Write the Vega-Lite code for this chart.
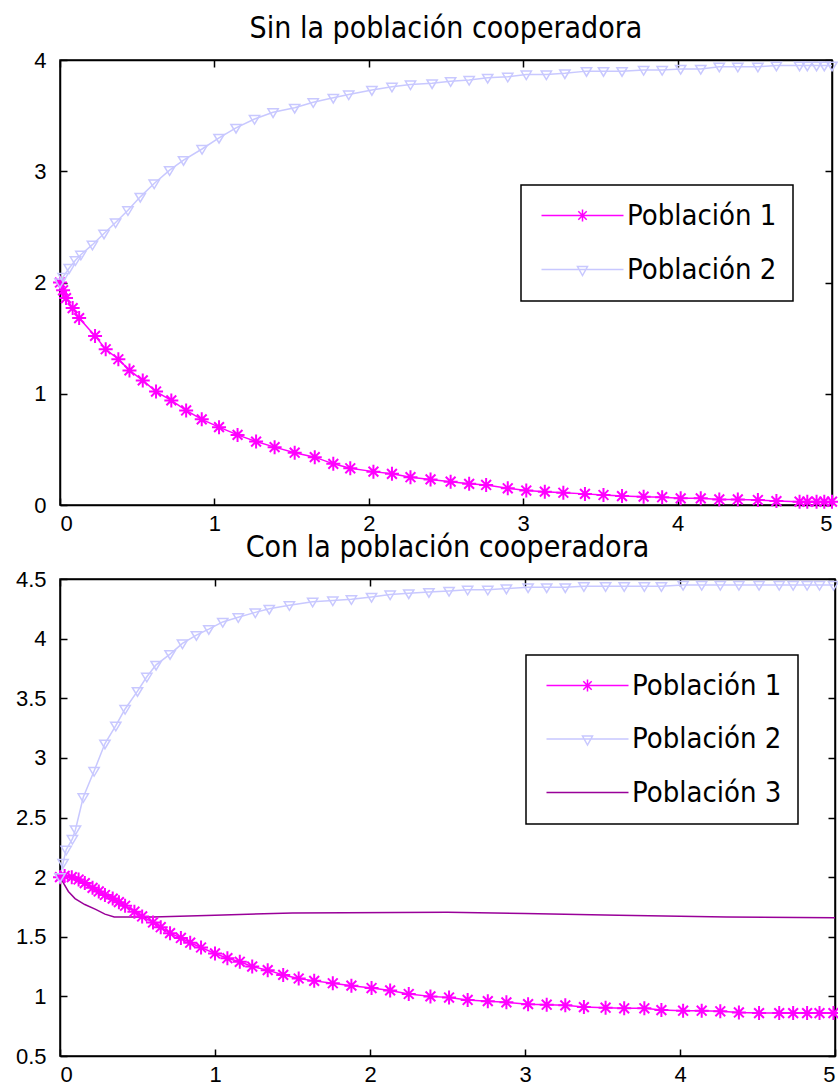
{
  "$schema": "https://vega.github.io/schema/vega-lite/v6.json",
  "background": "white",
  "padding": {"left": 14, "top": 13, "right": 5, "bottom": 5},
  "bounds": "flush",
  "spacing": 74,
  "config": {
    "view": {"stroke": "black", "strokeWidth": 1.5},
    "axis": {
      "domainColor": "black", "domainWidth": 1.5, "tickColor": "black", "tickWidth": 1.5,
      "tickSize": -7, "labelColor": "black", "labelFont": "Liberation Sans", "labelFontSize": 22,
      "grid": false, "title": null
    },
    "axisX": {"labelPadding": 15},
    "axisY": {"labelPadding": 21},
    "title": {"font": "Liberation Sans Narrow, DejaVu Sans Condensed, Liberation Sans", "fontSize": 30, "fontWeight": "normal", "color": "black", "offset": 5, "baseline": "alphabetic", "anchor": "middle"},
    "legend": {
      "title": null, "orient": "none", "direction": "vertical",
      "labelFont": "Liberation Sans Narrow, DejaVu Sans Condensed, Liberation Sans", "labelFontSize": 29, "labelColor": "black",
      "labelOffset": 61, "symbolSize": 400, "symbolStrokeWidth": 1.5, "symbolOpacity": 1,
      "strokeColor": "black", "fillColor": "white", "padding": 16, "labelLimit": 0
    }
  },
  "datasets": {
    "top": [
      {"s": "Población 1", "t": 0, "v": 2.0},
      {"s": "Población 1", "t": 0.02, "v": 1.93},
      {"s": "Población 1", "t": 0.039, "v": 1.86},
      {"s": "Población 1", "t": 0.082, "v": 1.77},
      {"s": "Población 1", "t": 0.124, "v": 1.68},
      {"s": "Población 1", "t": 0.227, "v": 1.52},
      {"s": "Población 1", "t": 0.296, "v": 1.40},
      {"s": "Población 1", "t": 0.378, "v": 1.31},
      {"s": "Población 1", "t": 0.45, "v": 1.21},
      {"s": "Población 1", "t": 0.536, "v": 1.12},
      {"s": "Población 1", "t": 0.622, "v": 1.02},
      {"s": "Población 1", "t": 0.721, "v": 0.94},
      {"s": "Población 1", "t": 0.817, "v": 0.85},
      {"s": "Población 1", "t": 0.918, "v": 0.77},
      {"s": "Población 1", "t": 1.03, "v": 0.70},
      {"s": "Población 1", "t": 1.15, "v": 0.63},
      {"s": "Población 1", "t": 1.27, "v": 0.57},
      {"s": "Población 1", "t": 1.39, "v": 0.52},
      {"s": "Población 1", "t": 1.52, "v": 0.47},
      {"s": "Población 1", "t": 1.65, "v": 0.43},
      {"s": "Población 1", "t": 1.77, "v": 0.37},
      {"s": "Población 1", "t": 1.88, "v": 0.33},
      {"s": "Población 1", "t": 2.03, "v": 0.30},
      {"s": "Población 1", "t": 2.15, "v": 0.28},
      {"s": "Población 1", "t": 2.27, "v": 0.25},
      {"s": "Población 1", "t": 2.40, "v": 0.23},
      {"s": "Población 1", "t": 2.53, "v": 0.21},
      {"s": "Población 1", "t": 2.65, "v": 0.19},
      {"s": "Población 1", "t": 2.76, "v": 0.18},
      {"s": "Población 1", "t": 2.90, "v": 0.15},
      {"s": "Población 1", "t": 3.02, "v": 0.13},
      {"s": "Población 1", "t": 3.14, "v": 0.12},
      {"s": "Población 1", "t": 3.26, "v": 0.11},
      {"s": "Población 1", "t": 3.40, "v": 0.10},
      {"s": "Población 1", "t": 3.52, "v": 0.09},
      {"s": "Población 1", "t": 3.64, "v": 0.08},
      {"s": "Población 1", "t": 3.78, "v": 0.075},
      {"s": "Población 1", "t": 3.90, "v": 0.07},
      {"s": "Población 1", "t": 4.02, "v": 0.06},
      {"s": "Población 1", "t": 4.15, "v": 0.06},
      {"s": "Población 1", "t": 4.27, "v": 0.05},
      {"s": "Población 1", "t": 4.39, "v": 0.05},
      {"s": "Población 1", "t": 4.52, "v": 0.045},
      {"s": "Población 1", "t": 4.64, "v": 0.035},
      {"s": "Población 1", "t": 4.79, "v": 0.03},
      {"s": "Población 1", "t": 4.84, "v": 0.03},
      {"s": "Población 1", "t": 4.90, "v": 0.03},
      {"s": "Población 1", "t": 4.95, "v": 0.03},
      {"s": "Población 1", "t": 5.0, "v": 0.03},
      {"s": "Población 2", "t": 0, "v": 2.0},
      {"s": "Población 2", "t": 0.02, "v": 2.05},
      {"s": "Población 2", "t": 0.06, "v": 2.13},
      {"s": "Población 2", "t": 0.10, "v": 2.20},
      {"s": "Población 2", "t": 0.135, "v": 2.25},
      {"s": "Población 2", "t": 0.21, "v": 2.34},
      {"s": "Población 2", "t": 0.285, "v": 2.44},
      {"s": "Población 2", "t": 0.36, "v": 2.54},
      {"s": "Población 2", "t": 0.44, "v": 2.65},
      {"s": "Población 2", "t": 0.52, "v": 2.77},
      {"s": "Población 2", "t": 0.61, "v": 2.89},
      {"s": "Población 2", "t": 0.71, "v": 3.01},
      {"s": "Población 2", "t": 0.80, "v": 3.10},
      {"s": "Población 2", "t": 0.92, "v": 3.20},
      {"s": "Población 2", "t": 1.03, "v": 3.30},
      {"s": "Población 2", "t": 1.14, "v": 3.39},
      {"s": "Población 2", "t": 1.26, "v": 3.47},
      {"s": "Población 2", "t": 1.38, "v": 3.53},
      {"s": "Población 2", "t": 1.52, "v": 3.57},
      {"s": "Población 2", "t": 1.64, "v": 3.62},
      {"s": "Población 2", "t": 1.77, "v": 3.66},
      {"s": "Población 2", "t": 1.87, "v": 3.69},
      {"s": "Población 2", "t": 2.02, "v": 3.73},
      {"s": "Población 2", "t": 2.15, "v": 3.76},
      {"s": "Población 2", "t": 2.27, "v": 3.78},
      {"s": "Población 2", "t": 2.41, "v": 3.79},
      {"s": "Población 2", "t": 2.53, "v": 3.81},
      {"s": "Población 2", "t": 2.65, "v": 3.82},
      {"s": "Población 2", "t": 2.77, "v": 3.84},
      {"s": "Población 2", "t": 2.90, "v": 3.85},
      {"s": "Población 2", "t": 3.02, "v": 3.87},
      {"s": "Población 2", "t": 3.15, "v": 3.87},
      {"s": "Población 2", "t": 3.27, "v": 3.88},
      {"s": "Población 2", "t": 3.41, "v": 3.90},
      {"s": "Población 2", "t": 3.52, "v": 3.90},
      {"s": "Población 2", "t": 3.64, "v": 3.90},
      {"s": "Población 2", "t": 3.78, "v": 3.91},
      {"s": "Población 2", "t": 3.90, "v": 3.91},
      {"s": "Población 2", "t": 4.02, "v": 3.92},
      {"s": "Población 2", "t": 4.15, "v": 3.92},
      {"s": "Población 2", "t": 4.27, "v": 3.94},
      {"s": "Población 2", "t": 4.39, "v": 3.94},
      {"s": "Población 2", "t": 4.52, "v": 3.94},
      {"s": "Población 2", "t": 4.64, "v": 3.95},
      {"s": "Población 2", "t": 4.79, "v": 3.95},
      {"s": "Población 2", "t": 4.84, "v": 3.95},
      {"s": "Población 2", "t": 4.90, "v": 3.95},
      {"s": "Población 2", "t": 4.95, "v": 3.95},
      {"s": "Población 2", "t": 5.0, "v": 3.95}
    ],
    "bottom": [
      {"s": "Población 1", "t": 0, "v": 2.0},
      {"s": "Población 1", "t": 0.03, "v": 2.01},
      {"s": "Población 1", "t": 0.076, "v": 2.0},
      {"s": "Población 1", "t": 0.12, "v": 1.98},
      {"s": "Población 1", "t": 0.16, "v": 1.95},
      {"s": "Población 1", "t": 0.21, "v": 1.91},
      {"s": "Población 1", "t": 0.25, "v": 1.88},
      {"s": "Población 1", "t": 0.29, "v": 1.85},
      {"s": "Población 1", "t": 0.34, "v": 1.82},
      {"s": "Población 1", "t": 0.38, "v": 1.79},
      {"s": "Población 1", "t": 0.42, "v": 1.76},
      {"s": "Población 1", "t": 0.48, "v": 1.71},
      {"s": "Población 1", "t": 0.53, "v": 1.67},
      {"s": "Población 1", "t": 0.60, "v": 1.62},
      {"s": "Población 1", "t": 0.65, "v": 1.58},
      {"s": "Población 1", "t": 0.71, "v": 1.53},
      {"s": "Población 1", "t": 0.78, "v": 1.49},
      {"s": "Población 1", "t": 0.84, "v": 1.45},
      {"s": "Población 1", "t": 0.91, "v": 1.41},
      {"s": "Población 1", "t": 1.0, "v": 1.36},
      {"s": "Población 1", "t": 1.08, "v": 1.32},
      {"s": "Población 1", "t": 1.16, "v": 1.29},
      {"s": "Población 1", "t": 1.24, "v": 1.25},
      {"s": "Población 1", "t": 1.34, "v": 1.22},
      {"s": "Población 1", "t": 1.44, "v": 1.18},
      {"s": "Población 1", "t": 1.54, "v": 1.15},
      {"s": "Población 1", "t": 1.64, "v": 1.13},
      {"s": "Población 1", "t": 1.76, "v": 1.11},
      {"s": "Población 1", "t": 1.88, "v": 1.09},
      {"s": "Población 1", "t": 2.01, "v": 1.07},
      {"s": "Población 1", "t": 2.13, "v": 1.05},
      {"s": "Población 1", "t": 2.25, "v": 1.02},
      {"s": "Población 1", "t": 2.39, "v": 1.00},
      {"s": "Población 1", "t": 2.51, "v": 0.99},
      {"s": "Población 1", "t": 2.63, "v": 0.97},
      {"s": "Población 1", "t": 2.76, "v": 0.96},
      {"s": "Población 1", "t": 2.88, "v": 0.95},
      {"s": "Población 1", "t": 3.02, "v": 0.935},
      {"s": "Población 1", "t": 3.14, "v": 0.93},
      {"s": "Población 1", "t": 3.26, "v": 0.925},
      {"s": "Población 1", "t": 3.38, "v": 0.91},
      {"s": "Población 1", "t": 3.52, "v": 0.905},
      {"s": "Población 1", "t": 3.64, "v": 0.90},
      {"s": "Población 1", "t": 3.77, "v": 0.90},
      {"s": "Población 1", "t": 3.88, "v": 0.885},
      {"s": "Población 1", "t": 4.02, "v": 0.88},
      {"s": "Población 1", "t": 4.14, "v": 0.88},
      {"s": "Población 1", "t": 4.26, "v": 0.875},
      {"s": "Población 1", "t": 4.38, "v": 0.865},
      {"s": "Población 1", "t": 4.51, "v": 0.86},
      {"s": "Población 1", "t": 4.64, "v": 0.86},
      {"s": "Población 1", "t": 4.73, "v": 0.86},
      {"s": "Población 1", "t": 4.82, "v": 0.86},
      {"s": "Población 1", "t": 4.90, "v": 0.86},
      {"s": "Población 1", "t": 4.99, "v": 0.86},
      {"s": "Población 2", "t": 0, "v": 2.0},
      {"s": "Población 2", "t": 0.02, "v": 2.12},
      {"s": "Población 2", "t": 0.04, "v": 2.23},
      {"s": "Población 2", "t": 0.08, "v": 2.32},
      {"s": "Población 2", "t": 0.10, "v": 2.40},
      {"s": "Población 2", "t": 0.15, "v": 2.67},
      {"s": "Población 2", "t": 0.22, "v": 2.89},
      {"s": "Población 2", "t": 0.29, "v": 3.12},
      {"s": "Población 2", "t": 0.36, "v": 3.27},
      {"s": "Población 2", "t": 0.42, "v": 3.41},
      {"s": "Población 2", "t": 0.50, "v": 3.56},
      {"s": "Población 2", "t": 0.56, "v": 3.68},
      {"s": "Población 2", "t": 0.62, "v": 3.78},
      {"s": "Población 2", "t": 0.71, "v": 3.87},
      {"s": "Población 2", "t": 0.79, "v": 3.96},
      {"s": "Población 2", "t": 0.88, "v": 4.03},
      {"s": "Población 2", "t": 0.96, "v": 4.08},
      {"s": "Población 2", "t": 1.05, "v": 4.14},
      {"s": "Población 2", "t": 1.15, "v": 4.18},
      {"s": "Población 2", "t": 1.26, "v": 4.22},
      {"s": "Población 2", "t": 1.35, "v": 4.25},
      {"s": "Población 2", "t": 1.48, "v": 4.28},
      {"s": "Población 2", "t": 1.63, "v": 4.31},
      {"s": "Población 2", "t": 1.76, "v": 4.32},
      {"s": "Población 2", "t": 1.88, "v": 4.33},
      {"s": "Población 2", "t": 2.01, "v": 4.35},
      {"s": "Población 2", "t": 2.13, "v": 4.37},
      {"s": "Población 2", "t": 2.25, "v": 4.38},
      {"s": "Población 2", "t": 2.38, "v": 4.39},
      {"s": "Población 2", "t": 2.51, "v": 4.40},
      {"s": "Población 2", "t": 2.63, "v": 4.41},
      {"s": "Población 2", "t": 2.76, "v": 4.41},
      {"s": "Población 2", "t": 2.88, "v": 4.42},
      {"s": "Población 2", "t": 3.02, "v": 4.43},
      {"s": "Población 2", "t": 3.14, "v": 4.43},
      {"s": "Población 2", "t": 3.26, "v": 4.43},
      {"s": "Población 2", "t": 3.38, "v": 4.44},
      {"s": "Población 2", "t": 3.52, "v": 4.44},
      {"s": "Población 2", "t": 3.64, "v": 4.44},
      {"s": "Población 2", "t": 3.77, "v": 4.44},
      {"s": "Población 2", "t": 3.88, "v": 4.44},
      {"s": "Población 2", "t": 4.02, "v": 4.45},
      {"s": "Población 2", "t": 4.14, "v": 4.45},
      {"s": "Población 2", "t": 4.26, "v": 4.45},
      {"s": "Población 2", "t": 4.38, "v": 4.45},
      {"s": "Población 2", "t": 4.51, "v": 4.45},
      {"s": "Población 2", "t": 4.64, "v": 4.45},
      {"s": "Población 2", "t": 4.73, "v": 4.45},
      {"s": "Población 2", "t": 4.82, "v": 4.45},
      {"s": "Población 2", "t": 4.90, "v": 4.45},
      {"s": "Población 2", "t": 4.99, "v": 4.45},
      {"s": "Población 3", "t": 0, "v": 2.0},
      {"s": "Población 3", "t": 0.054, "v": 1.88},
      {"s": "Población 3", "t": 0.097, "v": 1.82},
      {"s": "Población 3", "t": 0.16, "v": 1.77},
      {"s": "Población 3", "t": 0.23, "v": 1.73},
      {"s": "Población 3", "t": 0.29, "v": 1.69},
      {"s": "Población 3", "t": 0.35, "v": 1.665},
      {"s": "Población 3", "t": 0.6, "v": 1.665},
      {"s": "Población 3", "t": 1.0, "v": 1.68},
      {"s": "Población 3", "t": 1.5, "v": 1.70},
      {"s": "Población 3", "t": 2.5, "v": 1.705},
      {"s": "Población 3", "t": 3.0, "v": 1.695},
      {"s": "Población 3", "t": 3.6, "v": 1.68},
      {"s": "Población 3", "t": 4.3, "v": 1.665},
      {"s": "Población 3", "t": 5.0, "v": 1.66}
    ]
  },
  "resolve": {"scale": {"color": "independent"}, "legend": {"color": "independent"}},
  "vconcat": [
    {
      "title": "Sin la población cooperadora",
      "width": 772,
      "height": 445,
      "data": {"name": "top"},
      "resolve": {"axis": {"x": "independent", "y": "independent"}},
      "layer": [
        {
          "mark": {"type": "line", "strokeWidth": 1.5},
          "encoding": {
            "x": {"field": "t", "type": "quantitative", "scale": {"domain": [0, 5]}, "axis": {"values": [0, 1, 2, 3, 4, 5], "format": "d"}},
            "y": {"field": "v", "type": "quantitative", "scale": {"domain": [0, 4]}, "axis": {"values": [0, 1, 2, 3, 4], "format": "~g"}},
            "color": {
              "field": "s", "type": "nominal",
              "scale": {"domain": ["Población 1", "Población 2"], "range": ["#ff00ff", "#c8c8ff"]},
              "legend": {
                "legendX": 461, "legendY": 125, "rowPadding": 24,
                "encode": {
                  "legend": {"update": {"strokeWidth": {"value": 1.5}}},
                  "symbols": {"update": {
                    "shape": {"signal": "datum.value === 'Población 1' ? 'M-1,0L7.2,0M3.1,-0.6L3.1,0.6M2.68,-0.42L3.52,0.42M2.68,0.42L3.52,-0.42' : (datum.value === 'Población 2' ? 'M-1,0L7.2,0M2.6,-0.3L3.6,-0.3L3.1,0.6Z' : 'M-1,0L7.2,0')"},
                    "size": {"value": 400},
                    "strokeWidth": {"value": 1.5},
                    "fill": {"value": "transparent"},
                    "opacity": {"value": 1}
                  }}
                }
              }
            }
          }
        },
        {
          "transform": [{"filter": "datum.s === 'Población 1'"}],
          "mark": {"type": "point", "filled": false, "opacity": 1, "color": "#ff00ff", "shape": "M-1,0L1,0M0,-1L0,1M-0.7,-0.7L0.7,0.7M-0.7,0.7L0.7,-0.7", "size": 196, "strokeWidth": 2},
          "encoding": {
            "x": {"field": "t", "type": "quantitative", "scale": {"domain": [0, 5]}, "axis": {"orient": "top", "labels": false, "values": [0, 1, 2, 3, 4, 5]}},
            "y": {"field": "v", "type": "quantitative", "scale": {"domain": [0, 4]}, "axis": {"orient": "right", "labels": false, "values": [0, 1, 2, 3, 4]}}
          }
        },
        {
          "transform": [{"filter": "datum.s === 'Población 2'"}],
          "mark": {"type": "point", "filled": false, "opacity": 1, "color": "#c8c8ff", "shape": "M-0.9,-0.6L0.9,-0.6L0,0.9Z", "size": 130, "strokeWidth": 1.5},
          "encoding": {
            "x": {"field": "t", "type": "quantitative", "scale": {"domain": [0, 5]}, "axis": null},
            "y": {"field": "v", "type": "quantitative", "scale": {"domain": [0, 4]}, "axis": null}
          }
        }
      ]
    },
    {
      "title": "Con la población cooperadora",
      "width": 775,
      "height": 477,
      "data": {"name": "bottom"},
      "resolve": {"axis": {"x": "independent", "y": "independent"}},
      "layer": [
        {
          "mark": {"type": "line", "strokeWidth": 1.5},
          "encoding": {
            "x": {"field": "t", "type": "quantitative", "scale": {"domain": [0, 5]}, "axis": {"values": [0, 1, 2, 3, 4, 5], "format": "d"}},
            "y": {"field": "v", "type": "quantitative", "scale": {"domain": [0.5, 4.5]}, "axis": {"values": [0.5, 1, 1.5, 2, 2.5, 3, 3.5, 4, 4.5], "format": "~g"}},
            "color": {
              "field": "s", "type": "nominal",
              "scale": {"domain": ["Población 1", "Población 2", "Población 3"], "range": ["#ff00ff", "#c8c8ff", "#990099"]},
              "legend": {
                "legendX": 466, "legendY": 76, "rowPadding": 23.5,
                "encode": {
                  "legend": {"update": {"strokeWidth": {"value": 1.5}}},
                  "symbols": {"update": {
                    "shape": {"signal": "datum.value === 'Población 1' ? 'M-1,0L7.2,0M3.1,-0.6L3.1,0.6M2.68,-0.42L3.52,0.42M2.68,0.42L3.52,-0.42' : (datum.value === 'Población 2' ? 'M-1,0L7.2,0M2.6,-0.3L3.6,-0.3L3.1,0.6Z' : 'M-1,0L7.2,0')"},
                    "size": {"value": 400},
                    "strokeWidth": {"value": 1.5},
                    "fill": {"value": "transparent"},
                    "opacity": {"value": 1}
                  }}
                }
              }
            }
          }
        },
        {
          "transform": [{"filter": "datum.s === 'Población 1'"}],
          "mark": {"type": "point", "filled": false, "opacity": 1, "color": "#ff00ff", "shape": "M-1,0L1,0M0,-1L0,1M-0.7,-0.7L0.7,0.7M-0.7,0.7L0.7,-0.7", "size": 196, "strokeWidth": 2},
          "encoding": {
            "x": {"field": "t", "type": "quantitative", "scale": {"domain": [0, 5]}, "axis": {"orient": "top", "labels": false, "values": [0, 1, 2, 3, 4, 5]}},
            "y": {"field": "v", "type": "quantitative", "scale": {"domain": [0.5, 4.5]}, "axis": {"orient": "right", "labels": false, "values": [0.5, 1, 1.5, 2, 2.5, 3, 3.5, 4, 4.5]}}
          }
        },
        {
          "transform": [{"filter": "datum.s === 'Población 2'"}],
          "mark": {"type": "point", "filled": false, "opacity": 1, "color": "#c8c8ff", "shape": "M-0.9,-0.6L0.9,-0.6L0,0.9Z", "size": 130, "strokeWidth": 1.5},
          "encoding": {
            "x": {"field": "t", "type": "quantitative", "scale": {"domain": [0, 5]}, "axis": null},
            "y": {"field": "v", "type": "quantitative", "scale": {"domain": [0.5, 4.5]}, "axis": null}
          }
        }
      ]
    }
  ]
}
